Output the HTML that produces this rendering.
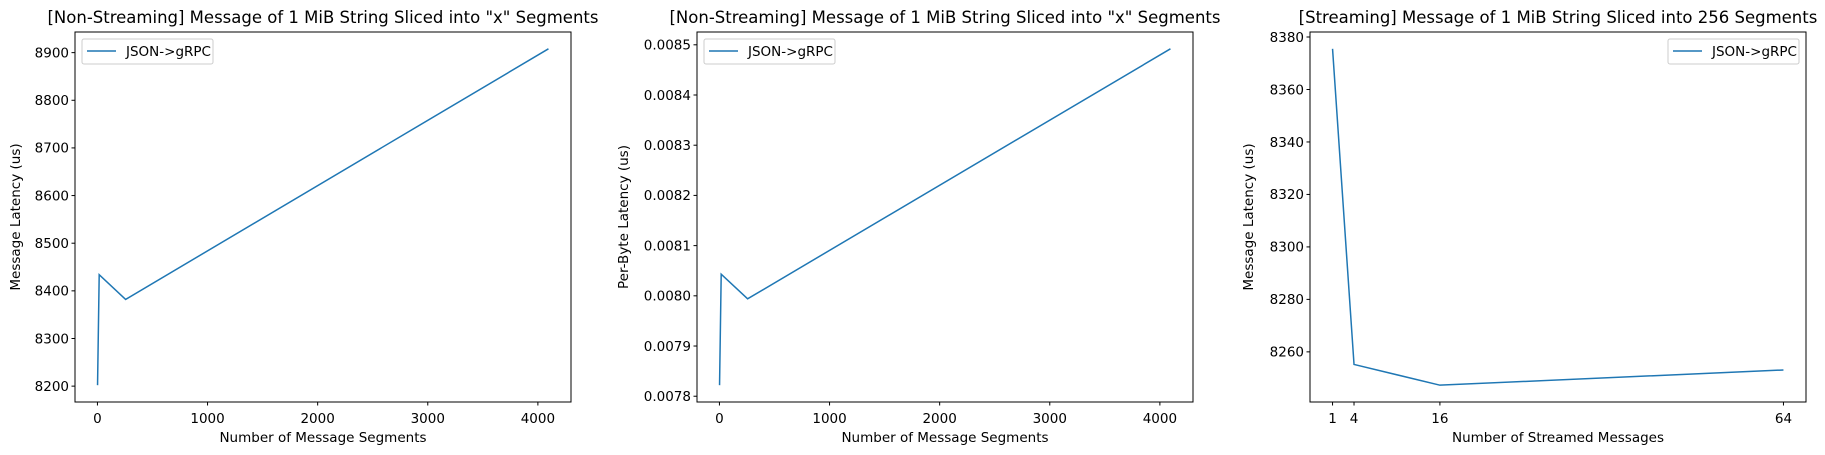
<!DOCTYPE html>
<html><head><meta charset="utf-8"><style>
body{margin:0;background:#fff;}
svg{display:block;font-family:"DejaVu Sans","Liberation Sans",sans-serif;}
</style></head><body>
<svg id="fig" width="1825" height="455" viewBox="0 0 1825 455" xmlns="http://www.w3.org/2000/svg"></svg>
<script>
const c1X = [1, 16, 256, 4096];
const c1Y = [8202, 8434, 8382, 8908];
const c2X = [1, 16, 256, 4096];
const c2Y = [0.007822, 0.008043, 0.007994, 0.008492];
const c3X = [1, 4, 16, 64];
const c3Y = [8375.5, 8255.2, 8247.3, 8253.1];
const c1YTicks = [8200, 8300, 8400, 8500, 8600, 8700, 8800, 8900];
const c2YTicks = [0.0078, 0.0079, 0.0080, 0.0081, 0.0082, 0.0083, 0.0084, 0.0085];
const c3YTicks = [8260, 8280, 8300, 8320, 8340, 8360, 8380];
const c12XTicks = [0, 1000, 2000, 3000, 4000];
const c3XTicks = [1, 4, 16, 64];

const NS = "http://www.w3.org/2000/svg";
const fig = document.getElementById('fig');
function mk(tag, attrs, parent, text){
  const e = document.createElementNS(NS, tag);
  for (const k in attrs) e.setAttribute(k, attrs[k]);
  if (text !== undefined) e.textContent = text;
  (parent || fig).appendChild(e);
  return e;
}
function ext(a){const mn=Math.min(...a),mx=Math.max(...a),m=(mx-mn)*0.05;return [mn-m,mx+m];}

function chart(cfg){
  const g = mk('g', {});
  
  
  const L=cfg.left, R=cfg.left+496, T=32, B=402;
  const [x0,x1]=ext(cfg.xs), [y0,y1]=ext(cfg.ys);
  const sx=v=>L+(v-x0)/(x1-x0)*(R-L);
  const sy=v=>B-(v-y0)/(y1-y0)*(B-T);
  const title = mk('text',{x:(L+R)/2,y:23,'text-anchor':'middle','font-size':'16.5','fill':'#000'},g,cfg.title);
  
  
  // y ticks
  cfg.yt.forEach((v,i)=>{
    const y=sy(v);
    const t=mk('line',{x1:L-3.5,x2:L,y1:y,y2:y,stroke:'#000','stroke-width':1},g);
    
    
    const lb=mk('text',{x:L-6,y:y+4.8,'text-anchor':'end','font-size':'13.5'},g,cfg.ytl(v));
    
    
  });
  cfg.xt.forEach(v=>{
    const x=sx(v);
    const t=mk('line',{x1:x,x2:x,y1:B,y2:B+3.5,stroke:'#000','stroke-width':1},g);
    
    
    const lb=mk('text',{x:x,y:423,'text-anchor':'middle','font-size':'13.5'},g,String(v));
    
    
  });
  const xl=mk('text',{x:(L+R)/2,y:442,'text-anchor':'middle','font-size':'13.5'},g,cfg.xlabel);
  
  
  const yl=mk('text',{x:0,y:0,'text-anchor':'middle','font-size':'13.5',transform:`translate(${cfg.ylx},${(T+B)/2}) rotate(-90)`},g,cfg.ylabel);
  
  
  const pts=cfg.xs.map((v,i)=>sx(v).toFixed(2)+','+sy(cfg.ys[i]).toFixed(2)).join(' ');
  const line=mk('polyline',{points:pts,fill:'none',stroke:'#1f77b4','stroke-width':1.5,'stroke-linejoin':'miter'},g);
  
  
  const fr=mk('rect',{x:L,y:T,width:R-L,height:B-T,fill:'none',stroke:'#000','stroke-width':1},g);
  
  
  // legend
  const lx = cfg.legendRight ? R-138 : L+7;
  const lg=mk('g',{},g);
  
  
  mk('rect',{x:lx,y:39,width:131,height:25,rx:2,fill:'#fff',stroke:'#ccc','stroke-width':1},lg);
  mk('line',{x1:lx+5,x2:lx+34,y1:51,y2:51,stroke:'#1f77b4','stroke-width':1.5},lg);
  const lt=mk('text',{x:lx+44,y:56,'font-size':'13.5'},lg,'JSON->gRPC');
  
  
}

chart({name:'chart-nonstreaming-latency',left:75,xs:c1X,ys:c1Y,yt:c1YTicks,xt:c12XTicks,ytl:v=>String(v),
  title:'[Non-Streaming] Message of 1 MiB String Sliced into "x" Segments',xlabel:'Number of Message Segments',ylabel:'Message Latency (us)',ylx:20});
chart({name:'chart-nonstreaming-per-byte',left:697,xs:c2X,ys:c2Y,yt:c2YTicks,xt:c12XTicks,ytl:v=>v.toFixed(4),
  title:'[Non-Streaming] Message of 1 MiB String Sliced into "x" Segments',xlabel:'Number of Message Segments',ylabel:'Per-Byte Latency (us)',ylx:628});
chart({name:'chart-streaming-latency',left:1310,xs:c3X,ys:c3Y,yt:c3YTicks,xt:c3XTicks,ytl:v=>String(v),legendRight:true,
  title:'[Streaming] Message of 1 MiB String Sliced into 256 Segments',xlabel:'Number of Streamed Messages',ylabel:'Message Latency (us)',ylx:1253});
</script>
</body></html>
